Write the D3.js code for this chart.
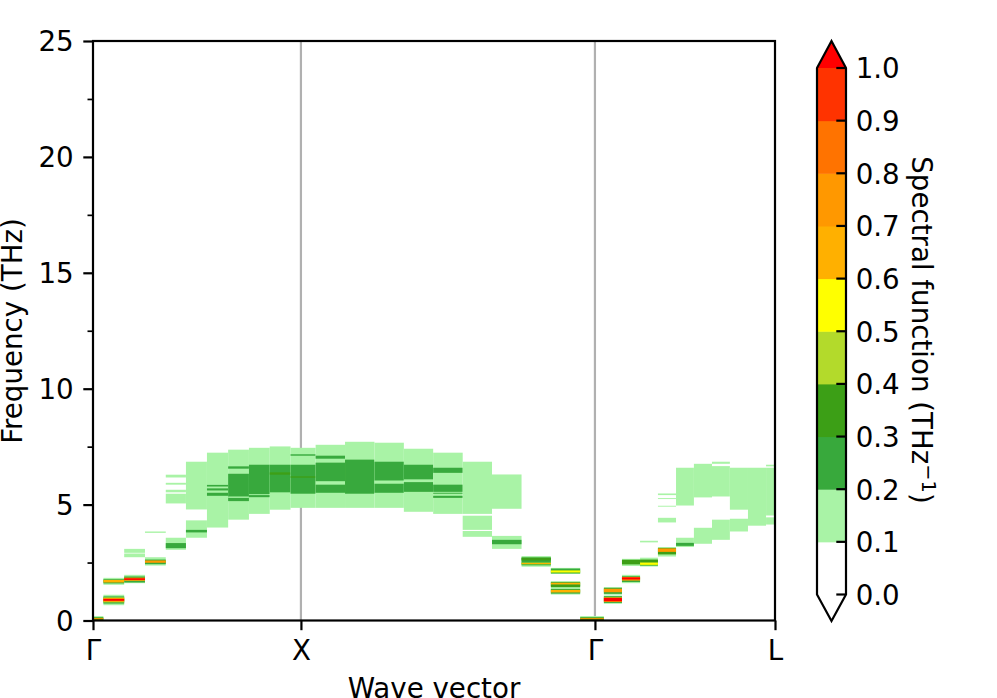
<!DOCTYPE html>
<html><head><meta charset="utf-8">
<script src="https://cdnjs.cloudflare.com/ajax/libs/d3/7.8.5/d3.min.js"></script>
<style>html,body{margin:0;padding:0;background:#fff;overflow:hidden}svg{display:block}text{font-family:"DejaVu Sans";fill:#000}</style>
</head><body><svg id="c" width="997" height="698"></svg>
<script>
const tickPath = [0, 1, 2.414, 3.28];
const tickNames = ["Γ", "X", "Γ", "L"];
const freqTicks = [0, 5, 10, 15, 20, 25];
const freqMinor = [2.5, 7.5, 12.5, 17.5, 22.5];
const cbTicks = [0, .1, .2, .3, .4, .5, .6, .7, .8, .9, 1];
const levelColors = ["#ffffff","#a9f3a6","#38a93c","#3c9f16","#b3da2b","#ffff00","#ffb000","#ff9800","#ff7300","#ff3300","#ff0000"];
const qEdges = [0,.05,.15,.25,.35,.447,.548,.65,.75,.85,.95,1.0707,1.2121,1.3536,1.495,1.636,1.778,1.919,2.061,2.202,2.343,2.457,2.544,2.631,2.717,2.804,2.89,2.977,3.063,3.15,3.237,3.28];
const columns = [
 [[0,.19,1],[.02,.14,3],[.05,.1,7]],
 [[1.54,1.84,1],[1.6,1.78,2],[1.64,1.75,6],[.66,1.11,1],[.73,1.04,2],[.78,1,4],[.81,.97,7],[.85,.93,10]],
 [[2.92,3.09,1],[2.73,2.89,1],[1.61,1.97,1],[1.64,1.9,2],[1.71,1.85,7],[1.75,1.82,10]],
 [[3.78,3.84,1],[2.37,2.73,1],[2.43,2.63,2],[2.49,2.59,7]],
 [[6.17,6.29,1],[5.86,5.94,1],[5.53,5.64,1],[5.05,5.47,1],[3.05,3.57,1],[3.12,3.34,2]],
 [[4.79,6.85,1],[3.57,4.32,1],[3.8,3.91,2]],
 [[4.01,7.24,1],[5.78,5.85,2],[5.61,5.7,2],[5.38,5.51,2]],
 [[4.35,7.37,1],[6.55,6.65,2],[5.15,6.33,2],[5.29,5.35,1]],
 [[4.6,7.45,1],[5.45,6.72,2],[5.32,5.41,2]],
 [[4.78,7.51,1],[5.53,6.72,2],[6.29,6.39,3]],
 [[4.86,7.45,1],[7.11,7.17,2],[5.47,6.72,2],[6.16,6.22,3]],
 [[4.86,7.58,1],[6.98,7.11,2],[6.01,6.81,2],[5.51,5.86,2]],
 [[4.86,7.71,1],[5.47,6.94,2]],
 [[4.86,7.67,1],[6.04,6.85,2],[5.51,5.9,2]],
 [[4.69,7.41,1],[6.09,6.72,2],[5.55,5.97,2]],
 [[4.6,7.24,1],[6.37,6.59,2],[5.55,5.86,2],[5.47,5.51,2],[5.29,5.38,2]],
 [[4.6,6.85,1],[3.91,4.52,1],[3.61,3.86,1]],
 [[4.82,6.3,1],[3.09,3.65,1],[3.29,3.48,2]],
 [[2.32,2.78,1],[2.38,2.72,2],[2.59,2.71,3],[2.42,2.5,4],[2.44,2.48,6]],
 [[2.01,2.27,1],[2.03,2.24,2],[2.07,2.16,5],[1.12,1.7,1],[1.5,1.66,2],[1.55,1.63,6],[1.44,1.54,3],[1.16,1.36,2],[1.21,1.32,6]],
 [[0,.19,1],[.02,.14,3],[.05,.1,7]],
 [[1.11,1.44,1],[1.15,1.41,2],[1.22,1.37,7],[.72,1.08,1],[.76,1.05,2],[.8,1,7],[.83,.97,10]],
 [[2.35,2.66,1],[2.42,2.62,3],[1.61,1.97,1],[1.66,1.91,2],[1.72,1.88,7],[1.77,1.86,10]],
 [[3.37,3.44,1],[2.33,2.71,1],[2.52,2.63,3],[2.37,2.52,3],[2.4,2.5,5]],
 [[5.41,5.48,1],[5.24,5.28,1],[4.91,4.95,1],[4.23,4.43,1],[2.76,3.17,1],[2.85,3.13,3],[2.96,3.11,7]],
 [[4.96,6.59,1],[3.17,3.57,1],[3.22,3.35,2]],
 [[5.31,6.76,1],[3.31,4,1]],
 [[5.35,6.66,1],[6.76,6.85,1],[3.48,4.35,1]],
 [[4.78,6.59,1],[3.84,4.39,1]],
 [[4.09,6.59,1]],
 [[6.65,6.72,1],[4.53,6.59,1],[4.14,4.45,1]]
];

const svg = d3.select("#c");
const x = d3.scaleLinear().domain([0, 3.28]).range([93, 775]);
const y = d3.scaleLinear().domain([0, 25]).range([620.5, 41]);
const cy = d3.scaleLinear().domain([0, 1]).range([594.5, 68]);

const defs = svg.append("defs");
defs.append("filter").attr("id","soft").attr("x","-5%").attr("y","-5%").attr("width","110%").attr("height","110%")
  .append("feGaussianBlur").attr("stdDeviation","0.45");
defs.append("clipPath").attr("id","plot").append("rect").attr("x",93).attr("y",41).attr("width",682).attr("height",579.5);

svg.append("g").selectAll("line").data([1, 2.414]).join("line")
  .attr("x1",d=>x(d)).attr("x2",d=>x(d)).attr("y1",41).attr("y2",620.5)
  .attr("stroke","#b0b0b0").attr("stroke-width",2.2);

const rows = columns.flatMap((c,i)=>c.map(r=>({q0:qEdges[i],q1:qEdges[i+1],f0:r[0],f1:r[1],l:r[2]})));
svg.append("g").attr("clip-path","url(#plot)").append("g").attr("filter","url(#soft)")
  .selectAll("rect").data(rows).join("rect")
  .attr("x",d=>x(d.q0)).attr("width",d=>x(d.q1)-x(d.q0))
  .attr("y",d=>y(d.f1)).attr("height",d=>y(d.f0)-y(d.f1))
  .attr("fill",d=>levelColors[d.l]);

const FS = 27.7;
function style(g, w){
  g.selectAll("text").style("font-size",FS+"px").style("font-family","DejaVu Sans").attr("fill","#000");
  g.selectAll("line").attr("stroke","#000").attr("stroke-width",w||2.2);
  g.selectAll(".domain").attr("stroke","none");
}
svg.append("g").attr("transform","translate(93,0)")
  .call(d3.axisLeft(y).tickValues(freqTicks).tickSize(9.7).tickPadding(9.7).tickFormat(d3.format("d"))).call(style)
  .selectAll("text").attr("dy","0.36em");
svg.append("g").attr("transform","translate(93,0)")
  .call(d3.axisLeft(y).tickValues(freqMinor).tickSize(5.5).tickFormat("")).call(style,1.7);
svg.append("g").attr("transform","translate(0,620.5)")
  .call(d3.axisBottom(x).tickValues(tickPath).tickSize(9.7).tickPadding(9.7).tickFormat((d,i)=>tickNames[i])).call(style);
svg.append("rect").attr("x",93).attr("y",41).attr("width",682).attr("height",579.5)
  .attr("fill","none").attr("stroke","#000").attr("stroke-width",2.2);

svg.append("text").attr("x",434).attr("y",698).attr("text-anchor","middle").style("font-size",FS+"px").text("Wave vector");
svg.append("text").attr("transform","translate(22,331) rotate(-90)").attr("text-anchor","middle").style("font-size",FS+"px").text("Frequency (THz)");

// colour bar
const cbL = 817, cbR = 846, cbM = (cbL+cbR)/2, tipTop = 41, tipBot = 621;
const cg = svg.append("g");
cg.selectAll("rect").data(d3.range(10)).join("rect")
  .attr("x",cbL).attr("width",cbR-cbL)
  .attr("y",i=>cy(cbTicks[i+1])).attr("height",i=>cy(cbTicks[i])-cy(cbTicks[i+1])+.5)
  .attr("fill",i=>levelColors[i]);
cg.append("path").attr("d",`M${cbL},${cy(1)}L${cbM},${tipTop}L${cbR},${cy(1)}Z`).attr("fill",levelColors[10]);
cg.append("path").attr("fill","none").attr("stroke","#000").attr("stroke-width",2.2)
  .attr("d",`M${cbL},${cy(1)}L${cbM},${tipTop}L${cbR},${cy(1)}L${cbR},${cy(0)}L${cbM},${tipBot}L${cbL},${cy(0)}Z`);
svg.append("g").attr("transform",`translate(${cbR},0)`)
  .call(d3.axisRight(cy).tickValues(cbTicks).tickSize(0).tickPadding(9.7).tickFormat(d3.format(".1f"))).call(style)
  .selectAll("text").attr("dy","0.36em");
svg.append("g").selectAll("line").data(cbTicks).join("line")
  .attr("x1",cbR-9.7).attr("x2",cbR).attr("y1",d=>cy(d)).attr("y2",d=>cy(d)).attr("stroke","#000").attr("stroke-width",2.2);

const lab = svg.append("text").attr("transform","translate(911.5,330) rotate(90)").attr("text-anchor","middle").style("font-size",FS+"px");
lab.append("tspan").text("Spectral function (THz");
lab.append("tspan").attr("dy",-10).style("font-size","19.4px").text("−1");
lab.append("tspan").attr("dy",10).text(")");
</script></body></html>
